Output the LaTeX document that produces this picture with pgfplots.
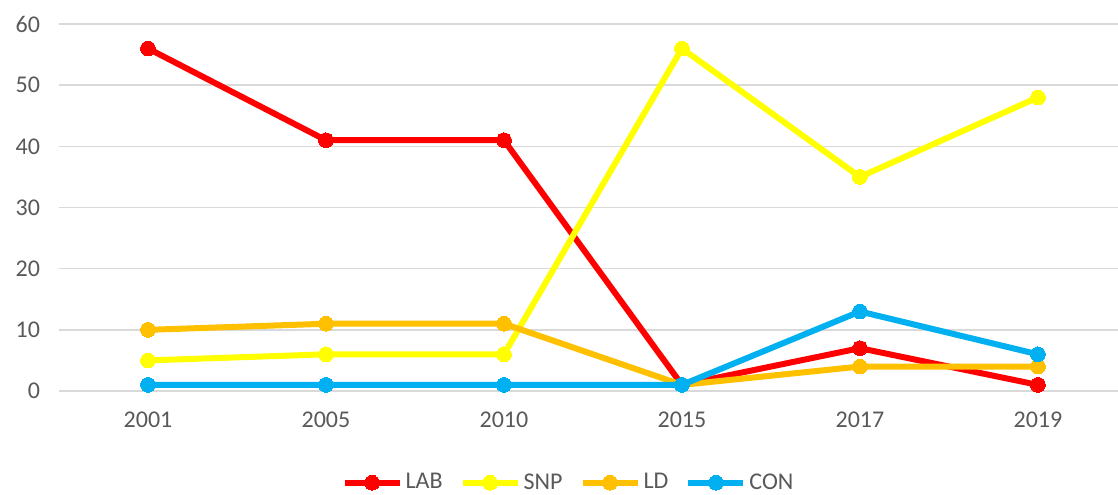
\documentclass[border=0pt]{standalone}
\usepackage{pgfplots}
\pgfplotsset{compat=1.18}
\usepackage{fontspec}
\setmainfont{Carlito}
\definecolor{txt}{HTML}{595959}
\definecolor{grd}{HTML}{D9D9D9}
\definecolor{cLAB}{HTML}{FF0000}
\definecolor{cSNP}{HTML}{FFFF00}
\definecolor{cLD}{HTML}{FFC000}
\definecolor{cCON}{HTML}{00B0F0}
\begin{document}
\begin{tikzpicture}
\path[use as bounding box] (-29.5pt,-51.5pt) rectangle (529.5pt,195.5pt);
\begin{axis}[
  scale only axis,
  width=529.5pt, height=183.5pt,
  at={(0,0)}, anchor=south west,
  xmin=-0.5, xmax=5.45,
  ymin=0, ymax=60,
  ytick={0,10,...,60},
  xtick={0,1,2,3,4,5},
  xticklabels={2001,2005,2010,2015,2017,2019},
  axis line style={draw=none},
  major tick length=0pt,
  ymajorgrids,
  grid style={grd, line width=0.75pt},
  tick label style={font=\fontsize{12}{14}\selectfont, text=txt},
  /pgf/number format/assume math mode=true,
  yticklabel style={xshift=-6pt},
  xticklabel style={yshift=-7pt},
  clip=false,
  legend columns=4,
  legend style={draw=none, at={(0.4816,-0.25)}, anchor=center,
    font=\fontsize{12}{14}\selectfont, text=txt,
    nodes={inner xsep=1.5pt, inner ysep=0pt},
    /tikz/every even column/.append style={column sep=7pt}},
  legend cell align=left,
  legend image code/.code={\draw[#1, mark repeat=2, mark phase=2] plot coordinates {(0pt,0pt) (13.75pt,0pt) (27.5pt,0pt)};},
  every axis plot/.append style={line width=3pt, mark=*, mark size=3.7pt},
]
\addplot[cLAB, mark options={fill=cLAB, draw=cLAB, line width=0pt}] coordinates {(0,56) (1,41) (2,41) (3,1) (4,7) (5,1)};
\addlegendentry{LAB}
\addplot[cSNP, mark options={fill=cSNP, draw=cSNP, line width=0pt}] coordinates {(0,5) (1,6) (2,6) (3,56) (4,35) (5,48)};
\addlegendentry{SNP}
\addplot[cLD, mark options={fill=cLD, draw=cLD, line width=0pt}] coordinates {(0,10) (1,11) (2,11) (3,1) (4,4) (5,4)};
\addlegendentry{LD}
\addplot[cCON, mark options={fill=cCON, draw=cCON, line width=0pt}] coordinates {(0,1) (1,1) (2,1) (3,1) (4,13) (5,6)};
\addlegendentry{CON}
\end{axis}
\end{tikzpicture}
\end{document}
